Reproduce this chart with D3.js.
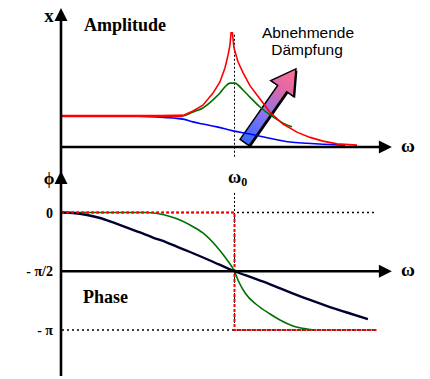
<!DOCTYPE html>
<html>
<head>
<meta charset="utf-8">
<script src="https://cdn.jsdelivr.net/npm/d3@7"></script>
<style>
  html, body { margin: 0; padding: 0; background: #ffffff; }
  svg { display: block; }
</style>
</head>
<body>
<svg id="chart" width="430" height="379"></svg>
<script>
// ---------- data (ω in units of ω0, amplitude relative to static amplitude, phase in degrees) ----------
const ampRedW   = [0, 0.51, 0.703, 0.761, 0.818, 0.876, 0.916, 0.945, 0.963, 0.974, 0.980, 0.988, 0.997, 1.020, 1.049, 1.089, 1.147, 1.205, 1.280, 1.360, 1.435, 1.510, 1.591, 1.706];
const ampRedA   = [1.0, 1.0, 1.02, 1.16, 1.35, 1.74, 2.10, 2.55, 2.97, 3.29, 3.68, 3.68, 3.20, 2.75, 2.40, 1.98, 1.55, 1.12, 0.74, 0.48, 0.31, 0.19, 0.10, 0.06];
const ampGreenW = [0, 0.51, 0.703, 0.761, 0.818, 0.876, 0.916, 0.945, 0.974, 1.003, 1.020, 1.049, 1.089, 1.147, 1.222, 1.280, 1.331];
const ampGreenA = [1.0, 1.0, 1.0, 1.13, 1.26, 1.52, 1.74, 1.94, 2.06, 2.06, 2.0, 1.84, 1.61, 1.29, 0.97, 0.77, 0.65];
const ampBlueW  = [0, 0.34, 0.553, 0.703, 0.761, 0.818, 0.899, 0.991, 1.089, 1.222, 1.320, 1.418, 1.510, 1.637];
const ampBlueA  = [1.0, 1.0, 0.97, 0.90, 0.81, 0.74, 0.65, 0.52, 0.42, 0.26, 0.16, 0.12, 0.09, 0.06];

const phRedW    = [0, 1.0, 1.0, 1.82];
const phRedP    = [0, 0, -180, -180];
const phGreenW  = [0, 0.496, 0.571, 0.628, 0.686, 0.744, 0.818, 0.899, 0.945, 0.986, 1.0, 1.020, 1.061, 1.130, 1.205, 1.262, 1.337, 1.418, 1.464];
const phGreenP  = [0, 0, -2.3, -6.1, -11.5, -19.2, -31.4, -52.9, -68.2, -83.5, -90, -103.4, -123.3, -141.7, -155.5, -164.7, -173.9, -178.5, -180];
const phNavyW   = [0, 0.069, 0.150, 0.225, 0.300, 0.380, 0.455, 0.530, 0.611, 0.674, 0.744, 0.859, 1.0, 1.107, 1.205, 1.320, 1.435, 1.550, 1.666, 1.769];
const phNavyP   = [0, -0.8, -3.8, -8.4, -15.3, -23.0, -30.6, -38.3, -46.0, -52.9, -60.5, -73.5, -90, -100.3, -110.0, -122.3, -134.0, -144.8, -154.7, -163.2];

const phaseTicks  = [0, -90, -180];
const phaseLabels = ["0", "- \u03C0/2", "- \u03C0"];
const arrowFrom = [1.058, 0.145];   // "Abnehmende Dämpfung" arrow, data coords (ω, A)
const arrowTo   = [1.354, 2.52];

// ---------- scales ----------
const svg = d3.select("#chart");
const x  = d3.scaleLinear().domain([0, 1]).range([61, 234.5]);
const yA = d3.scaleLinear().domain([0, 1]).range([147, 116]);
const yP = d3.scaleLinear().domain([0, -180]).range([212.5, 330]);

const serif = "'Liberation Serif','Times New Roman',serif";
const sans  = "'Liberation Sans',Arial,sans-serif";

const zip = (a, b) => a.map((v, i) => [v, b[i]]);
const lineA = d3.line().x(d => x(d[0])).y(d => yA(d[1])).curve(d3.curveMonotoneX);
const lineP = d3.line().x(d => x(d[0])).y(d => yP(d[1])).curve(d3.curveMonotoneX);
const lineLin = d3.line().x(d => x(d[0])).y(d => yP(d[1]));

// ---------- reference / dotted lines ----------
const xEnd = 1.82;
[0, -180].forEach(p => {
  svg.append("line").attr("x1", x(0) + 1).attr("x2", x(xEnd)).attr("y1", yP(p)).attr("y2", yP(p))
    .attr("stroke", "#000").attr("stroke-width", 1.6).attr("stroke-dasharray", "2,3");
});
svg.append("line").attr("x1", x(1)).attr("x2", x(1)).attr("y1", yA(3.62)).attr("y2", yA(-0.32))
  .attr("stroke", "#000").attr("stroke-width", 1).attr("stroke-dasharray", "2,2");
svg.append("line").attr("x1", x(1)).attr("x2", x(1)).attr("y1", yP(30)).attr("y2", yP(-180))
  .attr("stroke", "#000").attr("stroke-width", 1).attr("stroke-dasharray", "2,2");

// ---------- gradient arrow ----------
const defs = svg.append("defs");
const p0 = [x(arrowFrom[0]), yA(arrowFrom[1])];
const p1 = [x(arrowTo[0]), yA(arrowTo[1])];
const grad = defs.append("linearGradient").attr("id", "arrGrad")
  .attr("gradientUnits", "userSpaceOnUse")
  .attr("x1", p0[0]).attr("y1", p0[1]).attr("x2", p1[0]).attr("y2", p1[1]);
grad.append("stop").attr("offset", "0%").attr("stop-color", "#2f6bff");
grad.append("stop").attr("offset", "40%").attr("stop-color", "#8f74ee");
grad.append("stop").attr("offset", "72%").attr("stop-color", "#dd68a6");
grad.append("stop").attr("offset", "100%").attr("stop-color", "#ff7096");
(function drawArrow() {
  const dx = p1[0] - p0[0], dy = p1[1] - p0[1];
  const L = Math.hypot(dx, dy);
  const u = [dx / L, dy / L], n = [-u[1], u[0]];
  const sw = 5.5, hw = 14, hl = 24;
  const at = (s, t) => [p0[0] + u[0] * s + n[0] * t, p0[1] + u[1] * s + n[1] * t];
  const pts = [at(0, -sw), at(L - hl, -sw), at(L - hl, -hw), at(L, 0), at(L - hl, hw), at(L - hl, sw), at(0, sw)];
  const path = d3.line()(pts) + "Z";
  svg.append("path").attr("d", path).attr("transform", "translate(1.5,1.5)")
    .attr("fill", "#000");
  svg.append("path").attr("d", path).attr("fill", "url(#arrGrad)")
    .attr("stroke", "#000").attr("stroke-width", 1.5).attr("stroke-linejoin", "miter");
})();

// ---------- amplitude curves ----------
svg.append("path").attr("d", lineA(zip(ampBlueW, ampBlueA))).attr("fill", "none")
  .attr("stroke", "#0000ff").attr("stroke-width", 1.6);
svg.append("path").attr("d", lineA(zip(ampGreenW, ampGreenA))).attr("fill", "none")
  .attr("stroke", "#007000").attr("stroke-width", 1.6);
svg.append("path").attr("d", d3.line().x(d => x(d[0])).y(d => yA(d[1]))(zip(ampRedW, ampRedA))).attr("fill", "none")
  .attr("stroke", "#ff0000").attr("stroke-width", 1.6);
svg.append("line").attr("x1", x(0)).attr("x2", x(0.70)).attr("y1", yA(1)).attr("y2", yA(1))
  .attr("stroke", "#ff0000").attr("stroke-width", 2.4);

// ---------- phase curves ----------
svg.append("path").attr("d", lineP(zip(phGreenW, phGreenP))).attr("fill", "none")
  .attr("stroke", "#007000").attr("stroke-width", 1.6);
svg.append("path").attr("d", lineP(zip(phNavyW, phNavyP))).attr("fill", "none")
  .attr("stroke", "#000033").attr("stroke-width", 2.4);
svg.append("path").attr("d", lineLin(zip(phRedW, phRedP))).attr("fill", "none")
  .attr("stroke", "#ff0000").attr("stroke-width", 2).attr("stroke-dasharray", "3,2");

// ---------- axes ----------
const axisX0 = x(0);
svg.append("line").attr("x1", axisX0).attr("x2", axisX0).attr("y1", 14).attr("y2", 376)
  .attr("stroke", "#000").attr("stroke-width", 2.6);
function upArrow(tipY) {
  svg.append("path").attr("d", d3.line()([[axisX0, tipY], [axisX0 - 6.5, tipY + 13], [axisX0 + 6.5, tipY + 13]]) + "Z")
    .attr("fill", "#000");
}
upArrow(8);
upArrow(171);
function hAxis(yy) {
  const xe = x(1.907);
  svg.append("line").attr("x1", axisX0).attr("x2", xe - 6).attr("y1", yy).attr("y2", yy)
    .attr("stroke", "#000").attr("stroke-width", 2.4);
  svg.append("path").attr("d", d3.line()([[xe, yy], [xe - 13, yy - 6.5], [xe - 13, yy + 6.5]]) + "Z")
    .attr("fill", "#000");
  svg.append("text").attr("x", 408).attr("y", yy + 5).attr("text-anchor", "middle")
    .attr("font-family", serif).attr("font-weight", "bold").attr("font-size", 19).text("\u03C9");
}
hAxis(yA(0));
hAxis(yP(-90));

// ---------- labels ----------
svg.append("text").attr("x", 49).attr("y", 22).attr("text-anchor", "middle")
  .attr("font-family", serif).attr("font-weight", "bold").attr("font-size", 19).text("x");
svg.append("text").attr("x", 49).attr("y", 184).attr("text-anchor", "middle")
  .attr("font-family", serif).attr("font-weight", "bold").attr("font-size", 17).text("\u03D5");
svg.append("text").attr("x", 84).attr("y", 31)
  .attr("font-family", serif).attr("font-weight", "bold").attr("font-size", 18).text("Amplitude");
svg.append("text").attr("x", 83).attr("y", 303)
  .attr("font-family", serif).attr("font-weight", "bold").attr("font-size", 18).text("Phase");
const w0 = svg.append("text").attr("x", 228).attr("y", 183)
  .attr("font-family", serif).attr("font-weight", "bold").attr("font-size", 18);
w0.append("tspan").text("\u03C9");
w0.append("tspan").attr("font-size", 12).attr("dy", 3).text("0");
svg.append("text").attr("x", 308).attr("y", 38).attr("text-anchor", "middle")
  .attr("font-family", sans).attr("font-size", 15.5).text("Abnehmende");
svg.append("text").attr("x", 307).attr("y", 55).attr("text-anchor", "middle")
  .attr("font-family", sans).attr("font-size", 15.5).text("D\u00E4mpfung");
phaseTicks.forEach((t, i) => {
  svg.append("text").attr("x", 53).attr("y", yP(t) + 5).attr("text-anchor", "end")
    .attr("font-family", serif).attr("font-weight", "bold").attr("font-size", 14).text(phaseLabels[i]);
});
</script>
</body>
</html>
